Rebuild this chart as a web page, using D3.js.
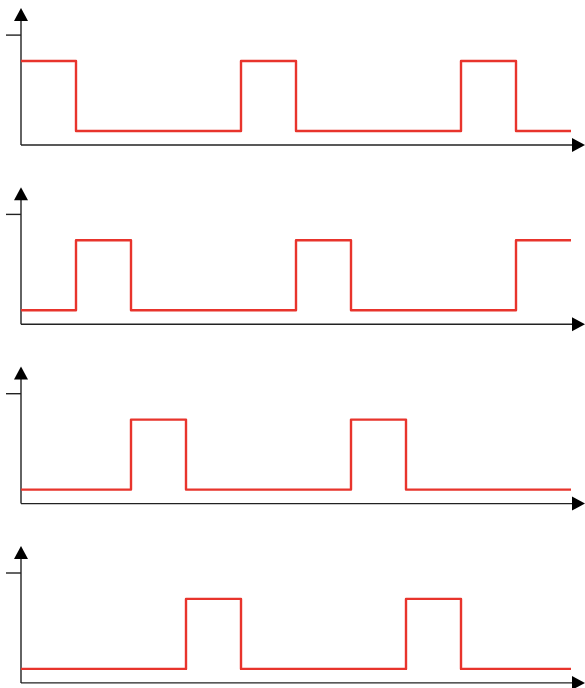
<!DOCTYPE html>
<html>
<head>
<title>Pulse trains</title>
<script src="https://cdn.jsdelivr.net/npm/d3@7"></script>
<style>
  body { margin: 0; background: #fff; }
</style>
</head>
<body>
<div id="chart"></div>
<script>
// one level per time slot (10 slots), 1 = high, 0 = low
var signal1 = [1, 0, 0, 0, 1, 0, 0, 0, 1, 0];
var signal2 = [0, 1, 0, 0, 0, 1, 0, 0, 0, 1];
var signal3 = [0, 0, 1, 0, 0, 0, 1, 0, 0, 0];
var signal4 = [0, 0, 0, 1, 0, 0, 0, 1, 0, 0];
var signals = [signal1, signal2, signal3, signal4];
var yTickValue = 1.37;

var width = 585,
    height = 688,
    panelStep = 179.3,
    top0 = 8;

var svg = d3.select('#chart').append('svg')
    .attr('width', width)
    .attr('height', height);

var x = d3.scaleLinear().domain([0, 10]).range([21, 571]);
var y = d3.scaleLinear().domain([0, 1]).range([123, 53]);
var axisY = 137;

function stepPoints(levels) {
    var pts = [];
    levels.forEach(function(v, i) {
        pts.push([i, v]);
        pts.push([i + 1, v]);
    });
    return pts;
}

var line = d3.line()
    .x(function(d) { return x(d[0]); })
    .y(function(d) { return y(d[1]); });

var panels = svg.selectAll('g.panel')
    .data(signals)
    .enter()
    .append('g')
    .attr('class', 'panel')
    .attr('transform', function(d, i) { return 'translate(0,' + (top0 + i * panelStep) + ')'; });

panels.each(function(levels) {
    var g = d3.select(this);

    // y axis line with arrow head
    g.append('line')
        .attr('x1', x(0)).attr('x2', x(0))
        .attr('y1', 12).attr('y2', axisY)
        .attr('stroke', '#222').attr('stroke-width', 1.4);
    g.append('path')
        .attr('d', 'M' + x(0) + ',0 L' + (x(0) - 7) + ',13 L' + (x(0) + 7) + ',13 Z')
        .attr('fill', '#000');

    // single y tick
    g.append('line')
        .attr('x1', x(0) - 15).attr('x2', x(0))
        .attr('y1', y(yTickValue)).attr('y2', y(yTickValue))
        .attr('stroke', '#222').attr('stroke-width', 1.4);

    // x axis with arrow head
    g.append('line')
        .attr('x1', x(0)).attr('x2', width - 12)
        .attr('y1', axisY).attr('y2', axisY)
        .attr('stroke', '#222').attr('stroke-width', 1.4);
    g.append('path')
        .attr('d', 'M' + width + ',' + axisY + ' L' + (width - 13) + ',' + (axisY - 7) +
              ' L' + (width - 13) + ',' + (axisY + 7) + ' Z')
        .attr('fill', '#000');

    // the pulse train
    g.append('path')
        .datum(stepPoints(levels))
        .attr('d', line)
        .attr('fill', 'none')
        .attr('stroke', '#e8342c')
        .attr('stroke-width', 2.4)
        .attr('stroke-linejoin', 'round');
});
</script>
</body>
</html>
